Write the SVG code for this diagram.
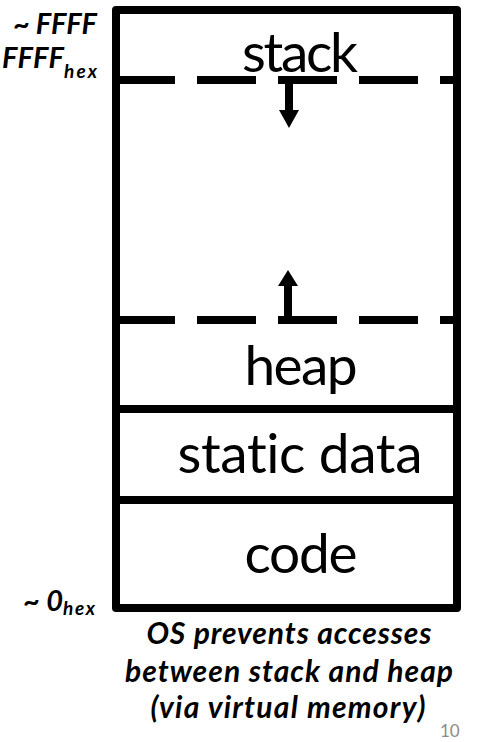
<svg xmlns="http://www.w3.org/2000/svg" width="480" height="742" viewBox="0 0 480 742">
<style>
.box{fill:none;stroke:#000;stroke-width:8;stroke-linejoin:round}
.div{stroke:#000;stroke-width:8}
.dash{stroke:#000;stroke-width:8;stroke-dasharray:59 22}
.seg{font-family:Lato,"Liberation Sans",sans-serif;font-size:55px;fill:#000;text-anchor:middle;font-variant-ligatures:none}
.lab{font-family:Lato,"Liberation Sans",sans-serif;font-size:29px;font-weight:bold;font-style:italic;fill:#000}
.sub{font-size:19px}
.note{font-family:Lato,"Liberation Sans",sans-serif;font-size:30px;font-weight:bold;font-style:italic;fill:#000;text-anchor:middle}
.pg{font-family:Lato,"Liberation Sans",sans-serif;font-size:17px;fill:#8c8c8c}
</style>
<rect width="480" height="742" fill="#fff"/>
<g id="connectors">
<line class="dash" x1="116" y1="80" x2="457" y2="80"/>
<line class="dash" x1="116" y1="320" x2="457" y2="320"/>
<line class="div" x1="289" y1="80" x2="289" y2="111"/>
<polygon points="279,110 299,110 289,128"/>
<line class="div" x1="288" y1="320" x2="288" y2="284"/>
<polygon points="278,286 298,286 288,270"/>
</g>
<g id="memory">
<rect class="box" x="116" y="10" width="341" height="598"/>
<line class="div" x1="116" y1="409" x2="457" y2="409"/>
<line class="div" x1="116" y1="500" x2="457" y2="500"/>
</g>
<g id="stack"><text class="seg" x="300" y="72" textLength="116">stack</text></g>
<g id="heap"><text class="seg" x="301" y="385" textLength="113">heap</text></g>
<g id="static-data"><text class="seg" x="300" y="473" textLength="245">static data</text></g>
<g id="code"><text class="seg" x="301" y="573" textLength="113">code</text></g>
<g id="top-address">
<text class="lab" x="13" y="34" textLength="84">~ FFFF</text>
<text class="lab" x="2" y="68" textLength="62">FFFF</text>
<text class="lab sub" x="64" y="78" textLength="33">hex</text>
</g>
<g id="bottom-address">
<text class="lab" x="23" y="611" textLength="40">~ 0</text>
<text class="lab sub" x="63" y="615" textLength="32">hex</text>
</g>
<g id="note">
<text class="note" x="289" y="644" textLength="285">OS prevents accesses</text>
<text class="note" x="289" y="682" textLength="328">between stack and heap</text>
<text class="note" x="288" y="718" textLength="275">(via virtual memory)</text>
</g>
<text class="pg" x="440" y="737">10</text>
</svg>
